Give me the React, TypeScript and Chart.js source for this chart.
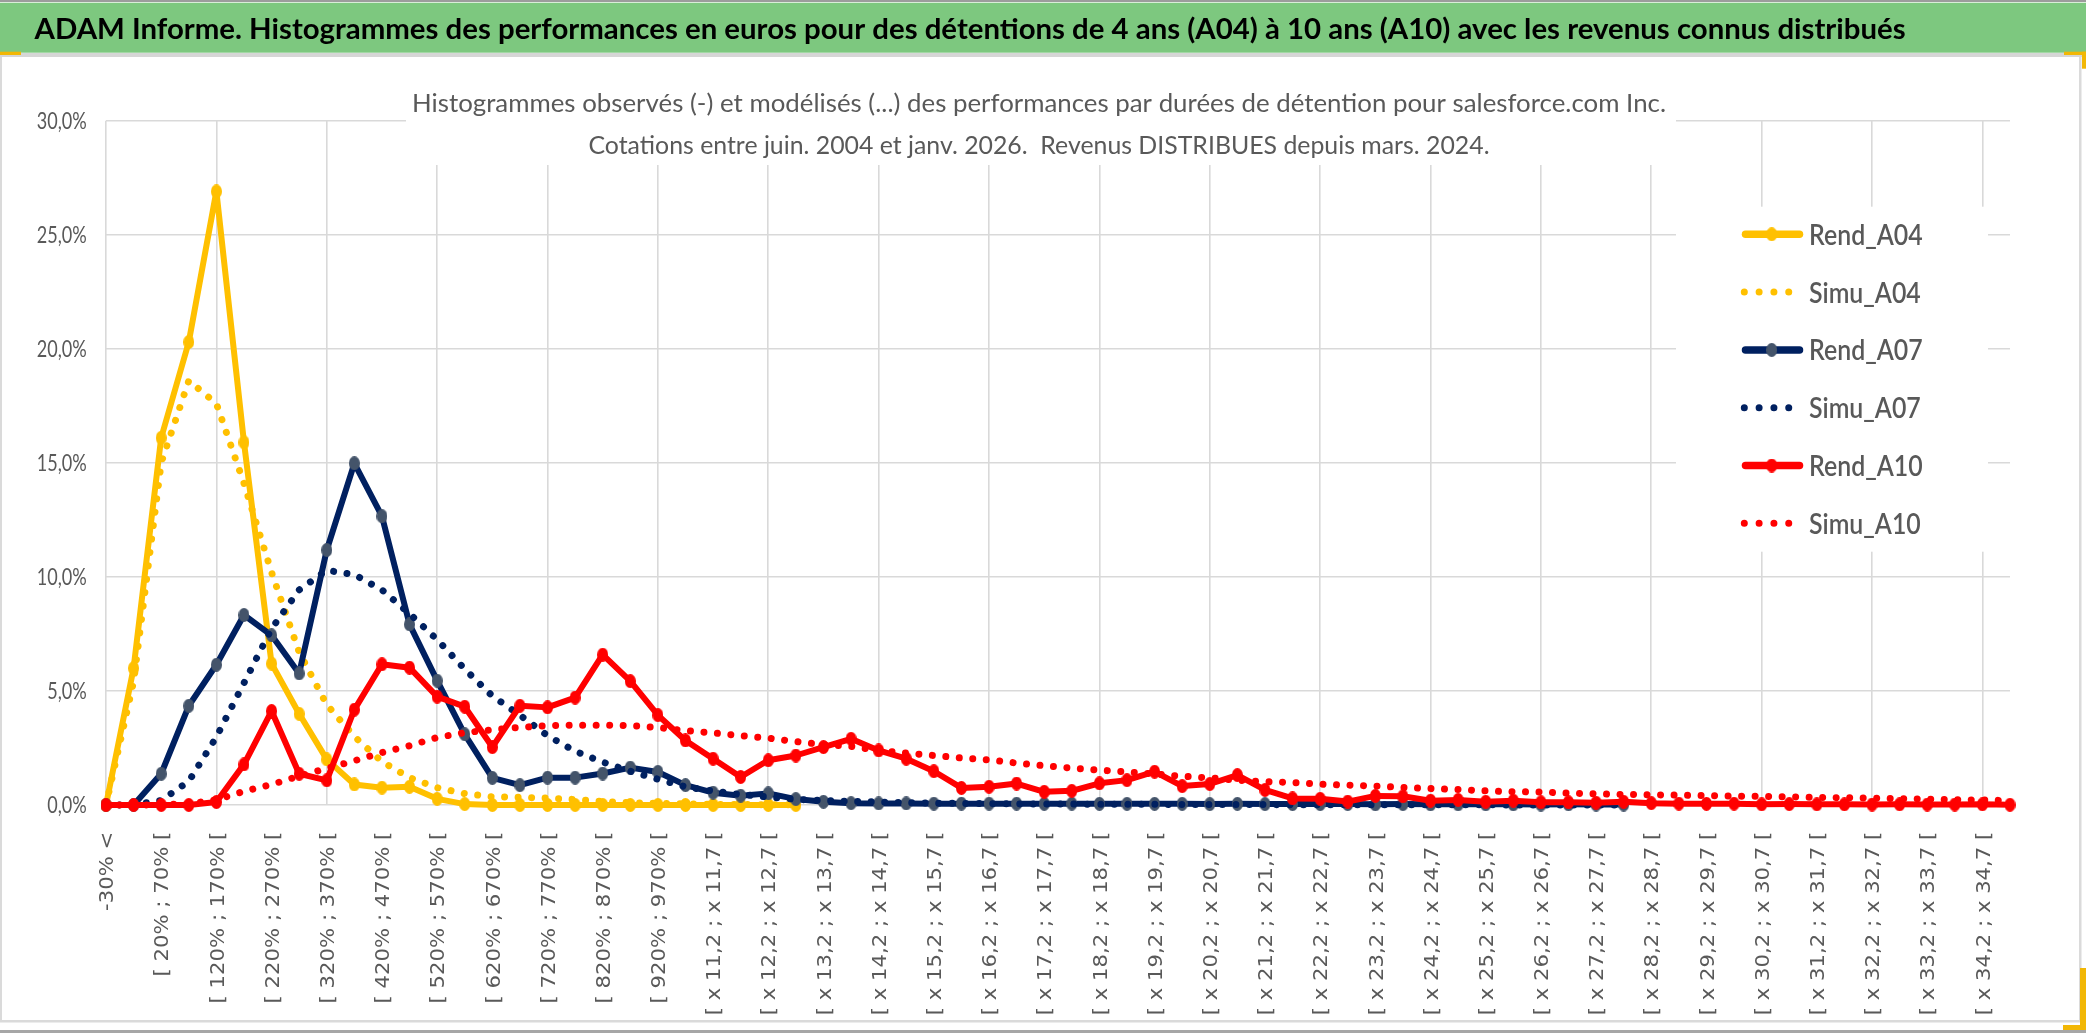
import React, { useEffect, useRef } from 'react';
import { Chart, registerables } from 'chart.js';

Chart.register(...registerables);

const W = 2086;
const H = 1033;

const GREEN = '#7dc87f';
const GRID = '#d9d9d9';
const TEXT = '#595959';

const mainTitle =
  'ADAM Informe. Histogrammes des performances en euros pour des détentions de 4 ans (A04) à 10 ans (A10) avec les revenus connus distribués';
const chartTitle1 =
  'Histogrammes observés (-) et modélisés (...) des performances par durées de détention pour salesforce.com Inc.';
const chartTitle2 = 'Cotations entre juin. 2004 et janv. 2026.  Revenus DISTRIBUES depuis mars. 2024.';

// catégories de performance (une étiquette sur deux est affichée)
const categories = [
  '-30% <', '[ -30% ; 20% [', '[ 20% ; 70% [', '[ 70% ; 120% [', '[ 120% ; 170% [', '[ 170% ; 220% [',
  '[ 220% ; 270% [', '[ 270% ; 320% [', '[ 320% ; 370% [', '[ 370% ; 420% [', '[ 420% ; 470% [',
  '[ 470% ; 520% [', '[ 520% ; 570% [', '[ 570% ; 620% [', '[ 620% ; 670% [', '[ 670% ; 720% [',
  '[ 720% ; 770% [', '[ 770% ; 820% [', '[ 820% ; 870% [', '[ 870% ; 920% [', '[ 920% ; 970% [',
  '[ 970% ; x 11,2 [', '[ x 11,2 ; x 11,7 [', '[ x 11,7 ; x 12,2 [', '[ x 12,2 ; x 12,7 [', '[ x 12,7 ; x 13,2 [',
  '[ x 13,2 ; x 13,7 [', '[ x 13,7 ; x 14,2 [', '[ x 14,2 ; x 14,7 [', '[ x 14,7 ; x 15,2 [',
  '[ x 15,2 ; x 15,7 [', '[ x 15,7 ; x 16,2 [', '[ x 16,2 ; x 16,7 [', '[ x 16,7 ; x 17,2 [',
  '[ x 17,2 ; x 17,7 [', '[ x 17,7 ; x 18,2 [', '[ x 18,2 ; x 18,7 [', '[ x 18,7 ; x 19,2 [',
  '[ x 19,2 ; x 19,7 [', '[ x 19,7 ; x 20,2 [', '[ x 20,2 ; x 20,7 [', '[ x 20,7 ; x 21,2 [',
  '[ x 21,2 ; x 21,7 [', '[ x 21,7 ; x 22,2 [', '[ x 22,2 ; x 22,7 [', '[ x 22,7 ; x 23,2 [',
  '[ x 23,2 ; x 23,7 [', '[ x 23,7 ; x 24,2 [', '[ x 24,2 ; x 24,7 [', '[ x 24,7 ; x 25,2 [',
  '[ x 25,2 ; x 25,7 [', '[ x 25,7 ; x 26,2 [', '[ x 26,2 ; x 26,7 [', '[ x 26,7 ; x 27,2 [',
  '[ x 27,2 ; x 27,7 [', '[ x 27,7 ; x 28,2 [', '[ x 28,2 ; x 28,7 [', '[ x 28,7 ; x 29,2 [',
  '[ x 29,2 ; x 29,7 [', '[ x 29,7 ; x 30,2 [', '[ x 30,2 ; x 30,7 [', '[ x 30,7 ; x 31,2 [',
  '[ x 31,2 ; x 31,7 [', '[ x 31,7 ; x 32,2 [', '[ x 32,2 ; x 32,7 [', '[ x 32,7 ; x 33,2 [',
  '[ x 33,2 ; x 33,7 [', '[ x 33,7 ; x 34,2 [', '[ x 34,2 ; x 34,7 [', '[ x 34,7 ; x 35,2 [',
];

const yTicks = [0, 5, 10, 15, 20, 25, 30];

// valeurs en %
const rendA04 = [0, 6.0, 16.1, 20.3, 26.9, 15.9, 6.2, 4.0, 2.0, 0.9, 0.76, 0.8, 0.27, 0.04, 0, 0, 0, 0, 0, 0, 0, 0, 0, 0, 0, 0];
const simuA04 = [0, 5.4, 15.0, 18.6, 17.6, 14.1, 10.2, 6.7, 4.4, 3.0, 1.9, 1.2, 0.76, 0.5, 0.36, 0.34, 0.3, 0.24, 0.15, 0.1, 0.07, 0.05, 0.03, 0.02, 0.01, 0.01];
const rendA07 = [
  0, 0, 1.37, 4.35, 6.15, 8.33, 7.44, 5.77, 11.18, 14.98,
  12.66, 7.92, 5.45, 3.1, 1.19, 0.87, 1.2, 1.2, 1.38, 1.64,
  1.45, 0.87, 0.54, 0.41, 0.51, 0.26, 0.14, 0.08, 0.07, 0.07,
  0.06, 0.06, 0.06, 0.06, 0.05, 0.06, 0.05, 0.05, 0.05, 0.05,
  0.04, 0.05, 0.04, 0.04, 0.04, 0.04, 0.03, 0.04, 0.03, 0.03,
  0.03, 0.03, 0.02, 0.03, 0.02, 0.02,
];
const simuA07 = [
  0, 0.01, 0.2, 1.04, 2.98, 5.35, 7.73, 9.43, 10.29, 10.1,
  9.43, 8.39, 7.25, 5.96, 4.78, 3.94, 3.04, 2.36, 1.88, 1.48,
  1.13, 0.8, 0.61, 0.46, 0.35, 0.25, 0.19, 0.16, 0.13, 0.1,
  0.08, 0.07, 0.06, 0.05, 0.04, 0.04, 0.03, 0.03, 0.03, 0.02,
  0.02, 0.02, 0.02, 0.01, 0.01, 0.01, 0.01, 0.01, 0.01, 0.01,
  0.01, 0, 0, 0, 0, 0,
];
const rendA10 = [
  0, 0, 0, 0, 0.13, 1.78, 4.12, 1.37, 1.08, 4.18,
  6.17, 6.02, 4.75, 4.31, 2.54, 4.35, 4.28, 4.71, 6.59, 5.43,
  3.94, 2.83, 2.03, 1.23, 1.96, 2.17, 2.54, 2.9, 2.39, 2.03,
  1.48, 0.75, 0.8, 0.94, 0.58, 0.62, 0.95, 1.09, 1.46, 0.83,
  0.92, 1.31, 0.66, 0.29, 0.27, 0.15, 0.4, 0.38, 0.19, 0.22,
  0.14, 0.19, 0.12, 0.12, 0.1, 0.14, 0.08, 0.06, 0.05, 0.06,
  0.03, 0.04, 0.03, 0.03, 0.02, 0.03, 0.02, 0.02, 0.03, 0.01,
];
const simuA10 = [
  0, 0, 0.01, 0.05, 0.23, 0.6, 0.9, 1.27, 1.6, 1.94,
  2.3, 2.6, 2.96, 3.17, 3.3, 3.4, 3.48, 3.5, 3.5, 3.48,
  3.4, 3.26, 3.16, 3.04, 2.93, 2.78, 2.65, 2.57, 2.39, 2.28,
  2.17, 2.06, 1.98, 1.84, 1.72, 1.62, 1.53, 1.45, 1.36, 1.26,
  1.19, 1.09, 1.02, 0.99, 0.91, 0.87, 0.83, 0.77, 0.72, 0.68,
  0.62, 0.58, 0.57, 0.52, 0.49, 0.46, 0.45, 0.43, 0.41, 0.39,
  0.38, 0.36, 0.33, 0.32, 0.3, 0.28, 0.26, 0.23, 0.22, 0.19,
];

const YELLOW = '#ffc000';
const NAVY = '#002060';
const RED = '#ff0000';
const SLATE = '#44546a';

// zone de tracé (pixels)
const plot = { left: 106, right: 2010, top: 120.7, bottom: 805 };

function makeMarker(color: string) {
  const c = document.createElement('canvas');
  c.width = 11;
  c.height = 14;
  const g = c.getContext('2d')!;
  g.fillStyle = color;
  g.beginPath();
  g.ellipse(5.5, 7, 5.5, 7, 0, 0, Math.PI * 2);
  g.fill();
  return c;
}

function fontForCap(ctx: CanvasRenderingContext2D, family: string, weight: string, cap: number) {
  ctx.font = `${weight} 100px ${family}`;
  const m = ctx.measureText('H');
  const ratio = (m.actualBoundingBoxAscent || 72) / 100;
  return `${weight} ${(cap / ratio).toFixed(2)}px ${family}`;
}

function widthScale(ctx: CanvasRenderingContext2D, font: string, sample: string, target: number) {
  ctx.font = font;
  return target / ctx.measureText(sample).width;
}

function drawText(
  ctx: CanvasRenderingContext2D,
  text: string,
  x: number,
  y: number,
  font: string,
  sx: number,
  color: string,
  align: CanvasTextAlign,
  rotate = false,
) {
  ctx.save();
  ctx.font = font;
  ctx.fillStyle = color;
  ctx.textAlign = align;
  ctx.textBaseline = 'alphabetic';
  ctx.translate(x, y);
  if (rotate) ctx.rotate(-Math.PI / 2);
  ctx.scale(sx, 1);
  ctx.fillText(text, 0, 0);
  ctx.restore();
}

const sheetPlugin = {
  id: 'sheet',
  beforeDraw(chart: any) {
    const ctx = chart.ctx as CanvasRenderingContext2D;
    ctx.save();
    ctx.fillStyle = '#ffffff';
    ctx.fillRect(0, 0, W, H);
    ctx.fillStyle = '#9c9c9c';
    ctx.fillRect(0, 0, W, 2);
    ctx.fillStyle = GREEN;
    ctx.fillRect(0, 2.7, W, 50);
    ctx.fillStyle = '#d6d6d6';
    ctx.fillRect(0, 53, W, 4);
    ctx.fillStyle = '#dadada';
    ctx.fillRect(0, 57, 2, 964);
    ctx.fillRect(2079, 57, 2.5, 964);
    ctx.fillRect(0, 1020, 2081, 2.5);
    ctx.fillStyle = '#a6a6a6';
    ctx.fillRect(0, 1030, W, 3);
    ctx.fillStyle = '#f2b705';
    ctx.fillRect(0, 51.7, 21, 3.3);
    ctx.fillRect(2064, 51.7, 22, 3.3);
    ctx.fillRect(2082, 51.7, 4, 17);
    ctx.fillRect(2063, 1025, 23, 5);
    ctx.fillRect(2080, 968, 6, 62);
    ctx.restore();
  },
  beforeDatasetsDraw(chart: any) {
    // cadres blancs du titre et de la légende, par-dessus le quadrillage
    const ctx = chart.ctx as CanvasRenderingContext2D;
    ctx.save();
    ctx.fillStyle = '#ffffff';
    ctx.fillRect(406, 95, 1270, 70);
    ctx.fillRect(1676, 206.7, 312, 345);
    ctx.restore();
  },
  afterDraw(chart: any) {
    const ctx = chart.ctx as CanvasRenderingContext2D;
    const xScale = chart.scales.x;
    const yScale = chart.scales.y;

    // titre de la feuille
    const tFont = fontForCap(ctx, 'Lato, "Noto Sans", sans-serif', 'bold', 21);
    drawText(ctx, mainTitle, 34.6, 38.5, tFont, widthScale(ctx, tFont, mainTitle, 1871), '#000000', 'left');

    // titre du graphique
    const cFont = fontForCap(ctx, 'Lato, "Noto Sans", sans-serif', 'normal', 18);
    drawText(ctx, chartTitle1, 1039, 111.5, cFont, widthScale(ctx, cFont, chartTitle1, 1254), TEXT, 'center');
    drawText(ctx, chartTitle2, 1039, 154, cFont, widthScale(ctx, cFont, chartTitle2, 901), TEXT, 'center');

    // axe vertical
    const yFont = fontForCap(ctx, 'Lato, "Noto Sans", sans-serif', 'normal', 16.5);
    const ySx = widthScale(ctx, yFont, '25,0%', 50);
    yTicks.forEach((v) => {
      const label = v.toFixed(1).replace('.', ',') + '%';
      drawText(ctx, label, 86.7, yScale.getPixelForValue(v) + 8.2, yFont, ySx, TEXT, 'right');
    });

    // axe horizontal, étiquettes verticales
    const xFont = fontForCap(ctx, '"DejaVu Sans", sans-serif', 'normal', 14.3);
    const xSx = widthScale(ctx, xFont, '[ 120% ; 170% [', 171.7);
    categories.forEach((lab, i) => {
      if (i % 2 !== 0) return;
      const x = xScale.getPixelForValue(i);
      drawText(ctx, lab, x + 7.2, 831.7, xFont, xSx, TEXT, 'right', true);
    });

    // légende
    const lFont = fontForCap(ctx, 'Lato, "Noto Sans", sans-serif', '600', 21);
    const lSx = widthScale(ctx, lFont, 'Rend_A04', 113.7);
    const rows = [234.3, 292.1, 349.9, 407.7, 465.5, 523.3];
    chart.data.datasets.forEach((ds: any, k: number) => {
      const y = rows[k];
      ctx.save();
      ctx.strokeStyle = ds.borderColor;
      ctx.lineCap = 'round';
      ctx.beginPath();
      if (ds.borderDash && ds.borderDash.length) {
        ctx.lineWidth = 7;
        ctx.setLineDash([0.01, 14.8]);
        ctx.moveTo(1744.3, y);
        ctx.lineTo(1800, y);
        ctx.stroke();
      } else {
        ctx.lineWidth = 7.5;
        ctx.moveTo(1745.5, y);
        ctx.lineTo(1799.5, y);
        ctx.stroke();
        const m = ds.pointStyle as HTMLCanvasElement;
        ctx.drawImage(m, 1771.7 - m.width / 2, y - m.height / 2);
      }
      ctx.restore();
      drawText(ctx, ds.label, 1809, y + 10.5, lFont, lSx, TEXT, 'left');
    });
  },
};

export default function App() {
  const canvasRef = useRef<HTMLCanvasElement>(null);

  useEffect(() => {
    const canvas = canvasRef.current;
    if (!canvas) return;

    const rend = (label: string, data: number[], color: string, marker: string, order: number) => ({
      label,
      data,
      order,
      borderColor: color,
      backgroundColor: color,
      borderWidth: 6,
      borderJoinStyle: 'round' as const,
      borderCapStyle: 'round' as const,
      pointStyle: makeMarker(marker),
      pointRadius: 5,
      pointHoverRadius: 5,
      tension: 0,
      clip: false as const,
    });
    const simu = (label: string, data: number[], color: string, order: number) => ({
      label,
      data,
      order,
      borderColor: color,
      backgroundColor: color,
      borderWidth: 7,
      borderDash: [0.01, 13.5],
      borderCapStyle: 'round' as const,
      borderJoinStyle: 'round' as const,
      pointRadius: 0,
      pointHoverRadius: 0,
      tension: 0,
      clip: false as const,
    });

    const chart = new Chart(canvas, {
      type: 'line',
      data: {
        labels: categories,
        datasets: [
          rend('Rend_A04', rendA04, YELLOW, YELLOW, 6),
          simu('Simu_A04', simuA04, YELLOW, 5),
          rend('Rend_A07', rendA07, NAVY, SLATE, 4),
          simu('Simu_A07', simuA07, NAVY, 3),
          rend('Rend_A10', rendA10, RED, RED, 2),
          simu('Simu_A10', simuA10, RED, 1),
        ] as any,
      },
      options: {
        responsive: false,
        animation: false,
        events: [],
        layout: {
          padding: { top: plot.top, right: W - plot.right, bottom: 0, left: 0 },
        },
        plugins: {
          legend: { display: false },
          title: { display: false },
          tooltip: { enabled: false },
        },
        scales: {
          x: {
            type: 'category',
            offset: false,
            border: { display: false },
            grid: {
              color: (c: any) => (c.index % 4 === 0 ? GRID : 'rgba(0,0,0,0)'),
              lineWidth: 1.6,
              drawTicks: false,
            },
            ticks: { display: false, autoSkip: false },
            afterFit: (s: any) => {
              s.height = H - plot.bottom;
            },
          },
          y: {
            min: 0,
            max: 30,
            border: { display: false },
            grid: { color: GRID, lineWidth: 1.6, drawTicks: false },
            ticks: { display: false, stepSize: 5 },
            afterFit: (s: any) => {
              s.width = plot.left;
            },
          },
        },
      },
      plugins: [sheetPlugin],
    });

    return () => {
      chart.destroy();
    };
  }, []);

  return (
    <div style={{ position: 'fixed', left: 0, top: 0, width: W, height: H, background: '#ffffff' }}>
      <canvas ref={canvasRef} width={W} height={H} style={{ width: W, height: H, display: 'block' }} />
    </div>
  );
}
